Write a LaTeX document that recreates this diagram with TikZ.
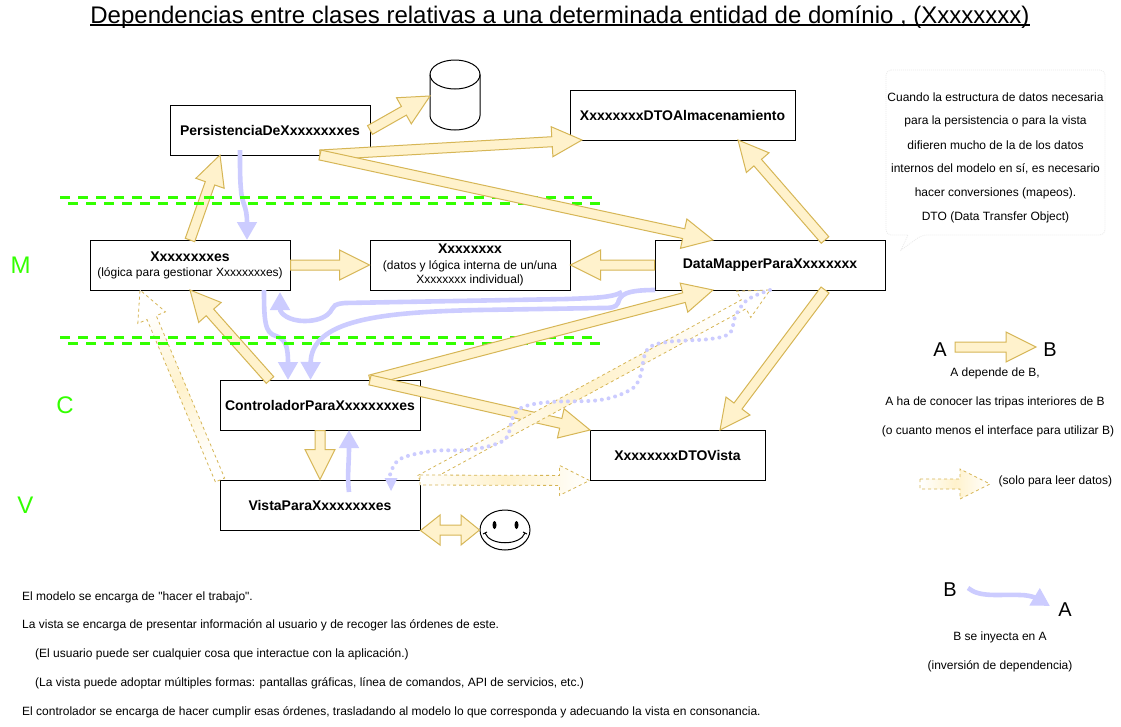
\documentclass[tikz,border=0pt]{standalone}
\usepackage{fontspec}
\setmainfont{Liberation Sans}
\newfontfamily\plainf{Liberation Sans}
\usetikzlibrary{calc,arrows.meta,shapes.geometric}
\definecolor{yfill}{HTML}{FFF2CC}
\definecolor{ydraw}{HTML}{D6B656}
\definecolor{lil}{HTML}{CCCCFF}
\definecolor{grn}{HTML}{33FF00}
\tikzset{
  box/.style={draw=black,line width=1pt,fill=white,minimum width=#1,minimum height=50pt,inner sep=0pt,align=center,font=\fontsize{14}{17}\selectfont\bfseries},
  block/.style={draw=ydraw,fill=yfill,line width=1pt,line join=miter},
  ghost/.style={draw=ydraw,left color=white,right color=white,middle color=yfill,shading angle=#1,line width=.8pt,dash pattern=on 3pt off 3pt},
  inject/.style={draw=lil,line width=4.6pt,-{Triangle[length=18pt,width=19pt]}},
  injectdot/.style={draw=lil,line width=4pt,dash pattern=on 0pt off 6.8pt,line cap=round},
  green/.style={draw=grn,line width=3pt,dash pattern=on 10pt off 8pt},
  note/.style={font=\fontsize{12}{14}\selectfont,inner sep=0pt},
  letter/.style={font=\fontsize{20}{24}\selectfont,inner sep=0pt},
  layer/.style={font=\fontsize{24}{28}\selectfont,text=grn,inner sep=0pt},
}
\newcommand{\barrow}[3][block]{%
  \coordinate (h) at ($(#3)!30pt!(#2)$);
  \draw[#1] ($(#2)!5pt!90:(#3)$) -- ($(h)!5pt!90:(#3)$) -- ($(h)!15pt!90:(#3)$) -- (#3)
     -- ($(h)!15pt!-90:(#3)$) -- ($(h)!5pt!-90:(#3)$) -- ($(#2)!5pt!-90:(#3)$) -- cycle;}
\newcommand{\ulined}[1]{\setbox0\hbox{#1}\rlap{\rule[-3pt]{\wd0}{1.8pt}}\box0}
\begin{document}
\begin{tikzpicture}[x=1pt,y=-1pt]
\useasboundingbox (0,0) rectangle (1121,726);
\fill[white] (0,0) rectangle (1121,726);
% title
\node[inner sep=0pt,anchor=base,font=\fontsize{24}{28}\selectfont] (title) at (560,23) {\ulined{Dependencias entre clases relativas a una determinada entidad de domínio , (Xxxxxxxx)}};
% boxes
\node[box=200pt] (pers) at (270,130) {PersistenciaDeXxxxxxxxes};
\node[box=225pt] (alm) at (682.5,115) {XxxxxxxxDTOAlmacenamiento};
\node[box=200pt] (xes) at (190,265) {Xxxxxxxxes\\[-2pt]{\fontsize{12}{14}\selectfont\mdseries (lógica para gestionar Xxxxxxxxes)}};
\node[box=200pt] (xx) at (470,265) {Xxxxxxxx\\[-1pt]{\fontsize{12}{14}\selectfont\mdseries (datos y lógica interna de un/una}\\[-3pt]{\fontsize{12}{14}\selectfont\mdseries Xxxxxxxx individual)}};
\node[box=230pt] (dm) at (770,265) {DataMapperParaXxxxxxxx};
\node[box=200pt] (ctrl) at (320,405) {ControladorParaXxxxxxxxes};
\node[box=175pt] (dtov) at (677.5,455) {XxxxxxxxDTOVista};
\node[box=200pt] (vista) at (320,505) {VistaParaXxxxxxxxes};
% database
\coordinate (db) at (455,95);
\draw[line width=1pt,fill=white] (430,74.5) .. controls (430,66.5) and (441.2,60) .. (455,60) .. controls (468.8,60) and (480,66.5) .. (480,74.5) -- (480,115.5) .. controls (480,123.5) and (468.8,130) .. (455,130) .. controls (441.2,130) and (430,123.5) .. (430,115.5) -- cycle;
\draw[line width=1pt] (430,74.5) .. controls (430,82.5) and (441.2,89) .. (455,89) .. controls (468.8,89) and (480,82.5) .. (480,74.5);
% user
\node[ellipse,draw=black,line width=1pt,fill=white,minimum width=50pt,minimum height=40pt,inner sep=0pt] (user) at (505,530) {};
\fill (494.5,525) ellipse (2pt and 4pt);
\fill (516.5,525) ellipse (2pt and 4pt);
\draw[line width=1pt] (485,533) .. controls (490,546) and (520,546) .. (525,533);
\draw[line width=1pt] (483,534) -- (487,532);
\draw[line width=1pt] (527,534) -- (523,532);
% endpoints
\coordinate (pT) at (320,155);
\coordinate (pR) at (370,130);
\coordinate (dbT) at (430,96);
\coordinate (almT) at (582,140);
\coordinate (dmT) at (713,240);
\coordinate (dmB) at (713,290);
\coordinate (xT) at (190,240);
\coordinate (pB) at (220,155);
\coordinate (almB) at (738,140);
\coordinate (dmTR) at (825,240);
\coordinate (dmBR) at (825,290);
\coordinate (xB) at (190,290);
\coordinate (cT) at (270,380);
\coordinate (cTR) at (370,380);
\coordinate (dvT) at (590,430);
\coordinate (dvTT) at (720,430);
\coordinate (xBL) at (140,290);
\coordinate (vTL) at (220,480);
\coordinate (vTR) at (420,480);
\coordinate (dmBD) at (770,290);
% arrows below the layer separators
\barrow{xT}{pB}
\barrow{cT}{xB}
\barrow[ghost=23]{vTL}{xBL}
\coordinate (i1) at (240,150); \coordinate (i1e) at (247,240);
\draw[inject] (i1) .. controls (240,170) and (240,180) .. (241,190) .. controls (242,205) and (247,205) .. (i1e);
\coordinate (i4) at (264,290); \coordinate (i4e) at (288,380);
\draw[inject] (i4) .. controls (264,322) and (265,333) .. (276,336) .. controls (285,339) and (288,345) .. (i4e);
% layer separators
\coordinate (g1a) at (60,197.5); \coordinate (g1b) at (592,197.5);
\coordinate (g2a) at (68,203);   \coordinate (g2b) at (600,203);
\coordinate (g3a) at (60,337.5); \coordinate (g3b) at (592,337.5);
\coordinate (g4a) at (68,343);   \coordinate (g4b) at (600,343);
\draw[green] (g1a) -- (g1b); \draw[green] (g2a) -- (g2b);
\draw[green] (g3a) -- (g3b); \draw[green] (g4a) -- (g4b);
% block arrows
\barrow{pR}{dbT}
\barrow{pT}{almT}
\barrow{pT}{dmT}
\barrow{xes.east}{xx.west}
\barrow{dm.west}{xx.east}
\barrow{dmTR}{almB}
\barrow{cTR}{dmB}
\barrow{cTR}{dvT}
\barrow{dmBR}{dvTT}
\barrow{ctrl.south}{vista.north}
\barrow[ghost=-62]{vTR}{dmBD}
\barrow[ghost=90]{vTR}{dtov.south west}
% double arrow
\draw[block] (vista.south east) -- (440,515) -- (440,525) -- (461,525) -- (461,515) -- (user.west) -- (461,545) -- (461,535) -- (440,535) -- (440,545) -- cycle;
% injections
\coordinate (i2) at (622,292); \coordinate (i2e) at (280,292);
\draw[inject] (i2) .. controls (612,298) and (590,298) .. (567,299) -- (400,302) -- (345,303) .. controls (334,304) and (334,306) .. (332,309) .. controls (328,318) and (315,321) .. (305,321) .. controls (288,321) and (280,313) .. (i2e);
\coordinate (i3) at (655,290); \coordinate (i3e) at (310.5,380);
\draw[inject] (i3) .. controls (625,290) and (620,295) .. (618,303) .. controls (616,308) and (610,308) .. (600,308) -- (480,310) .. controls (380,312) and (311,320) .. (i3e);
\coordinate (i5) at (349,492); \coordinate (i5e) at (349,430);
\draw[inject] (i5) .. controls (347,475) and (349,465) .. (i5e);
\coordinate (i6) at (770,290); \coordinate (i6e) at (391,491);
\draw[injectdot] plot[smooth,tension=.6] coordinates {(i6) (747,300) (735,317) (730,333) (710,339) (667,342) (647,350) (640,377) (630,390) (600,400) (550,402) (523,407) (513,417) (507,437) (493,445) (467,450) (433,451) (400,459) (390,475)};
\path[fill=lil] (i6e) -- (384.5,478) -- (397.5,478) -- cycle;
% callout
\draw[draw=black!8,line width=.8pt,rounded corners=5pt,dash pattern=on 1pt off 1pt,fill=white] (886,70) -- (1105,70) -- (1105,235) -- (922,235) [sharp corners] -- (901,250) -- (908,235) [rounded corners=5pt] -- (886,235) -- cycle;
\node[note] (c1) at (995.5,97) {Cuando la estructura de datos necesaria};
\node[note] (c2) at (995.5,121) {para la persistencia o para la vista};
\node[note] (c3) at (995.5,145) {difieren mucho de la de los datos};
\node[note] (c4) at (995.5,169) {internos del modelo en sí, es necesario};
\node[note] (c5) at (995.5,193) {hacer conversiones (mapeos).};
\node[note] (c6) at (995.5,217) {DTO (Data Transfer Object)};
% layer letters
\node[layer] (lm) at (20.5,265) {M};
\node[layer] (lc) at (65,405) {C};
\node[layer] (lv) at (25.5,505) {V};
% legend
\node[letter] (la) at (940,350) {A};
\node[letter] (lb) at (1050,350) {B};
\coordinate (la1) at (955,347); \coordinate (la2a) at (1036,347);
\barrow{la1}{la2a}
\node[note] (t1) at (995,373) {A depende de B,};
\node[note] (t2) at (995,402) {A ha de conocer las tripas interiores de B};
\node[note] (t3) at (998,431) {(o cuanto menos el interface para utilizar B)};
\coordinate (lg1) at (920,484); \coordinate (lg2) at (990,484);
\barrow[ghost=90]{lg1}{lg2}
\node[note,anchor=west] (t4) at (998.5,481.5) {(solo para leer datos)};
\node[letter] (lb2) at (950,589.5) {B};
\node[letter] (la2) at (1065,609.5) {A};
\coordinate (q1) at (968,588); \coordinate (q2) at (1050,606);
\draw[inject] (q1) .. controls (980,598) and (1000,594) .. (1020,595) .. controls (1032,595) and (1040,600) .. (q2);
\node[note] (t5) at (1000,637) {B se inyecta en A};
\node[note] (t6) at (1000,666) {(inversión de dependencia)};
% notes
\node[note,anchor=base west] (n1) at (22,600) {El modelo se encarga de {\plainf"}hacer el trabajo{\plainf"}.};
\node[note,anchor=base west] (n2) at (22,628.5) {La vista se encarga de presentar información al usuario y de recoger las órdenes de este.};
\node[note,anchor=base west] (n3) at (35,657.5) {(El usuario puede ser cualquier cosa que interactue con la aplicación.)};
\node[note,anchor=base west] (n4) at (35,686.5) {(La vista puede adoptar múltiples formas: pantallas gráficas, línea de comandos, API de servicios, etc.)};
\node[note,anchor=base west] (n5) at (22,715.5) {El controlador se encarga de hacer cumplir esas órdenes, trasladando al modelo lo que corresponda y adecuando la vista en consonancia.};
\end{tikzpicture}
\end{document}
